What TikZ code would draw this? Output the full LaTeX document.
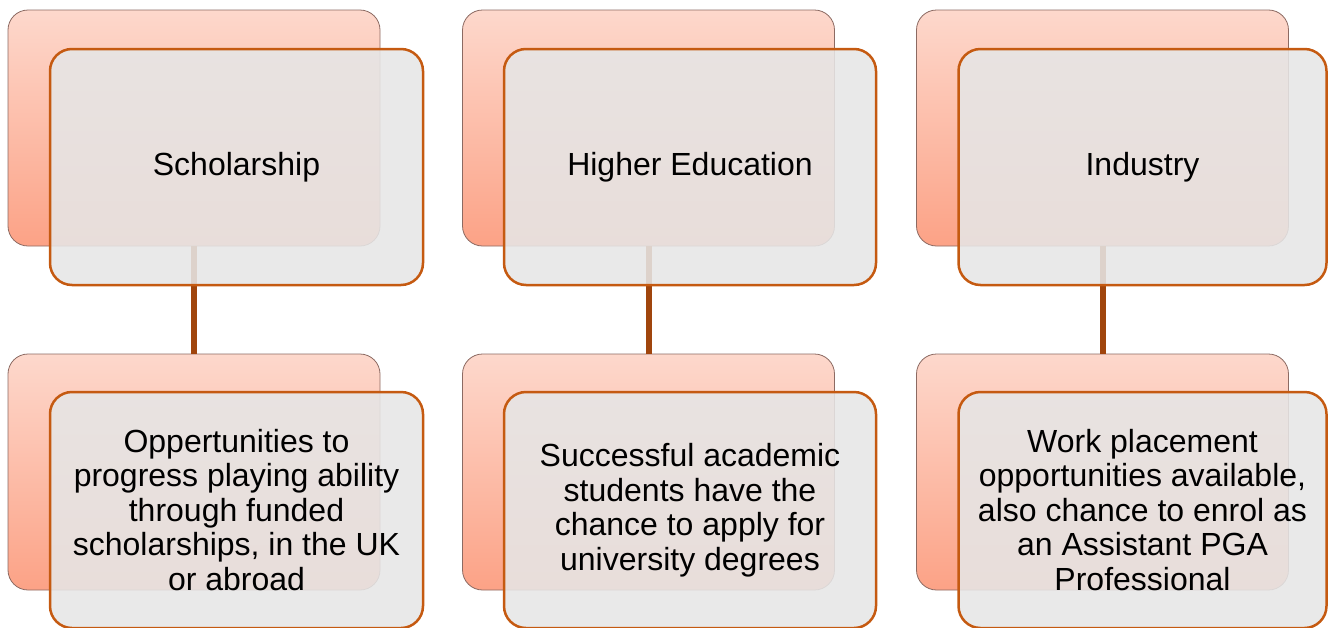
\documentclass[tikz,border=0pt]{standalone}
\usepackage{fontspec}
\setmainfont{Liberation Sans}
\definecolor{backtop}{HTML}{FDD8CC}
\definecolor{backbot}{HTML}{FCA286}
\definecolor{backline}{HTML}{8C6A62}
\definecolor{frontfill}{HTML}{E6E6E6}
\definecolor{frontline}{HTML}{C55A11}
\definecolor{conn}{HTML}{A0450D}
\tikzset{
  backbox/.style={rectangle, rounded corners=20pt, minimum width=372pt, minimum height=236pt,
    inner sep=0pt, top color=backtop, bottom color=backbot, draw=backline, line width=0.8pt},
  frontbox/.style={rectangle, rounded corners=22pt, minimum height=236pt, inner sep=0pt,
    fill=frontfill, fill opacity=0.88, text opacity=1, draw=frontline, draw opacity=1,
    line width=2.5pt, align=center, text=black, font=\fontsize{32}{34.5}\selectfont},
  link/.style={draw=conn, line width=6pt}
}
\begin{document}
\begin{tikzpicture}[x=1pt,y=-1pt]
\useasboundingbox (0,0) rectangle (1328,627);
% back boxes
\node[backbox] (bt1) at (194,128) {};
\node[backbox] (bt2) at (648.5,128) {};
\node[backbox] (bt3) at (1102.5,128) {};
\node[backbox] (bb1) at (194,472) {};
\node[backbox] (bb2) at (648.5,472) {};
\node[backbox] (bb3) at (1102.5,472) {};
% connectors
\draw[link] (bt1.south) -- (bb1.north);
\draw[link] (bt2.south) -- (bb2.north);
\draw[link] (bt3.south) -- (bb3.north);
% front boxes
\node[frontbox, minimum width=373pt] (ft1) at (236.5,167) {Scholarship};
\node[frontbox, minimum width=372pt] (ft2) at (690,167) {Higher Education};
\node[frontbox, minimum width=368pt] (ft3) at (1142.5,167) {Industry};
\node[frontbox, minimum width=373pt] (fb1) at (236.5,510) {Oppertunities to\\progress playing ability\\through funded\\scholarships, in the UK\\or abroad};
\node[frontbox, minimum width=372pt] (fb2) at (690,510) {Successful academic\\students have the\\chance to apply for\\university degrees};
\node[frontbox, minimum width=368pt] (fb3) at (1142.5,510) {Work placement\\opportunities available,\\also chance to enrol as\\an Assistant PGA\\Professional};
\end{tikzpicture}
\end{document}
